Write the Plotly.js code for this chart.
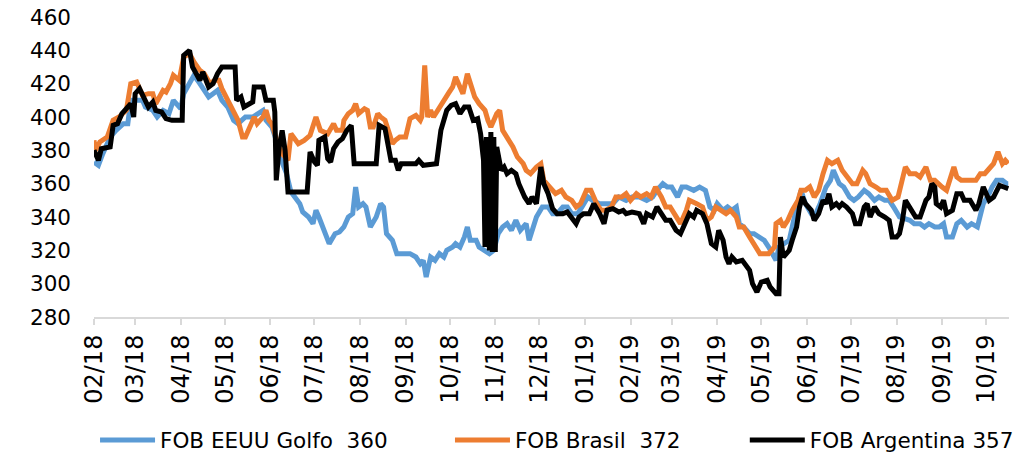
<!DOCTYPE html>
<html>
<head>
<meta charset="utf-8">
<script src="https://cdn.plot.ly/plotly-3.0.1.min.js"></script>
<style>
html,body{margin:0;padding:0;background:#fff;}
#chart{width:1033px;height:457px;}
</style>
</head>
<body>
<div id="chart"></div>
<script>
// ---- Series names (legend) ----
var nameUS = "FOB EEUU Golfo \u00a0360";
var nameBR = "FOB Brasil \u00a0372";
var nameAR = "FOB Argentina 357";

// ---- FOB Argentina ----
var arDates = ["2018-02-01","2018-02-04","2018-02-06","2018-02-12","2018-02-14","2018-02-17","2018-02-20","2018-02-23","2018-02-26","2018-02-28",
"2018-03-01","2018-03-04","2018-03-07","2018-03-10","2018-03-13","2018-03-15","2018-03-19","2018-03-22","2018-03-26","2018-04-02",
"2018-04-03","2018-04-07","2018-04-09","2018-04-12","2018-04-14","2018-04-16","2018-04-20","2018-04-23","2018-04-26","2018-04-29",
"2018-05-08","2018-05-09","2018-05-12","2018-05-14","2018-05-20","2018-05-21","2018-05-27","2018-05-29","2018-06-03","2018-06-04",
"2018-06-05","2018-06-07","2018-06-09","2018-06-11","2018-06-13","2018-06-26","2018-06-28","2018-07-01","2018-07-03","2018-07-04",
"2018-07-08","2018-07-10","2018-07-12","2018-07-14","2018-07-17","2018-07-20","2018-07-23","2018-07-26","2018-07-28","2018-08-12",
"2018-08-14","2018-08-18","2018-08-21","2018-08-22","2018-08-25","2018-08-27","2018-08-29","2018-09-08","2018-09-10","2018-09-13",
"2018-09-22","2018-09-24","2018-09-25","2018-09-29","2018-10-02","2018-10-05","2018-10-08","2018-10-11","2018-10-14","2018-10-17",
"2018-10-20","2018-10-22","2018-10-24","2018-10-25","2018-10-26","2018-10-28","2018-10-29","2018-10-30","2018-10-31","2018-11-01",
"2018-11-02","2018-11-05","2018-11-07","2018-11-09","2018-11-12","2018-11-15","2018-11-17","2018-11-21","2018-11-24","2018-11-26",
"2018-11-29","2018-12-02","2018-12-04","2018-12-07","2018-12-10","2018-12-13","2018-12-17","2018-12-20","2018-12-23","2018-12-26",
"2018-12-28","2018-12-31","2019-01-04","2019-01-07","2019-01-11","2019-01-14","2019-01-16","2019-01-20","2019-01-24","2019-01-27",
"2019-01-29","2019-02-02","2019-02-07","2019-02-10","2019-02-12","2019-02-16","2019-02-19","2019-02-22","2019-02-25","2019-02-28",
"2019-03-04","2019-03-07","2019-03-11","2019-03-13","2019-03-16","2019-03-18","2019-03-22","2019-03-25","2019-03-28","2019-03-31",
"2019-04-02","2019-04-05","2019-04-07","2019-04-09","2019-04-11","2019-04-14","2019-04-18","2019-04-21","2019-04-23","2019-04-25",
"2019-04-28","2019-05-01","2019-05-05","2019-05-07","2019-05-11","2019-05-13","2019-05-14","2019-05-16","2019-05-18","2019-05-20",
"2019-05-22","2019-05-25","2019-05-27","2019-05-29","2019-05-31","2019-06-04","2019-06-06","2019-06-09","2019-06-12","2019-06-14",
"2019-06-16","2019-06-18","2019-06-21","2019-06-23","2019-06-25","2019-06-28","2019-07-02","2019-07-04","2019-07-07","2019-07-10",
"2019-07-12","2019-07-14","2019-07-17","2019-07-20","2019-07-24","2019-07-27","2019-07-29","2019-08-01","2019-08-03","2019-08-05",
"2019-08-07","2019-08-10","2019-08-14","2019-08-17","2019-08-21","2019-08-23","2019-08-25","2019-08-27","2019-08-28","2019-08-31",
"2019-09-02","2019-09-04","2019-09-08","2019-09-11","2019-09-14","2019-09-16","2019-09-20","2019-09-24","2019-09-26","2019-09-29",
"2019-10-03","2019-10-06","2019-10-10","2019-10-13","2019-10-16"];
var arValues = [380,374,381,382,395,396,402,405,408,400,
414,417,412,406,409,404,403,399,398,398,
437,440,430,425,422,427,418,420,426,430,
430,410,412,406,409,418,418,410,410,403,
362,382,392,380,355,355,379,373,371,386,
388,375,373,381,385,387,392,395,372,372,
395,393,380,374,374,368,372,372,374,371,
372,385,392,404,407,408,402,406,406,398,
399,390,374,322,388,320,391,319,388,319,
382,368,370,366,368,366,360,352,348,352,
348,370,360,354,345,342,342,343,340,336,
340,342,342,348,342,336,344,345,343,344,
342,343,342,336,342,340,346,342,338,338,
332,330,338,342,340,344,342,336,324,322,
332,326,316,312,316,313,314,310,308,300,
295,301,302,298,294,294,328,316,318,320,
326,334,346,352,348,344,338,342,350,348,
354,346,348,346,348,346,342,336,336,346,
348,340,346,342,340,338,328,328,330,338,
350,346,340,340,350,352,360,358,348,346,
350,342,344,354,354,350,350,344,348,358,
350,352,359,358,357];

// ---- FOB Brasil ----
var brDates = ["2018-02-01","2018-02-02","2018-02-05","2018-02-10","2018-02-14","2018-02-18","2018-02-23","2018-02-26","2018-03-02","2018-03-06",
"2018-03-10","2018-03-13","2018-03-15","2018-03-20","2018-03-22","2018-03-25","2018-03-27","2018-03-31","2018-04-03","2018-04-07",
"2018-04-10","2018-04-14","2018-04-17","2018-04-21","2018-04-24","2018-04-27","2018-04-29","2018-05-03","2018-05-06","2018-05-10",
"2018-05-13","2018-05-15","2018-05-19","2018-05-21","2018-05-23","2018-05-27","2018-05-29","2018-05-31","2018-06-02","2018-06-06",
"2018-06-09","2018-06-13","2018-06-15","2018-06-20","2018-06-24","2018-06-28","2018-07-02","2018-07-05","2018-07-10","2018-07-14",
"2018-07-16","2018-07-20","2018-07-21","2018-07-24","2018-07-27","2018-07-29","2018-07-31","2018-08-04","2018-08-06","2018-08-08",
"2018-08-10","2018-08-13","2018-08-15","2018-08-18","2018-08-21","2018-08-23","2018-08-25","2018-08-28","2018-09-01","2018-09-04",
"2018-09-08","2018-09-11","2018-09-12","2018-09-14","2018-09-16","2018-09-18","2018-09-20","2018-09-24","2018-09-28","2018-09-30",
"2018-10-03","2018-10-05","2018-10-07","2018-10-10","2018-10-13","2018-10-15","2018-10-18","2018-10-21","2018-10-25","2018-10-27",
"2018-10-29","2018-11-02","2018-11-04","2018-11-06","2018-11-09","2018-11-13","2018-11-16","2018-11-20","2018-11-22","2018-11-25",
"2018-11-29","2018-12-02","2018-12-04","2018-12-08","2018-12-12","2018-12-16","2018-12-19","2018-12-23","2018-12-26","2018-12-29",
"2019-01-02","2019-01-05","2019-01-09","2019-01-12","2019-01-15","2019-01-19","2019-01-22","2019-01-26","2019-01-29","2019-02-01",
"2019-02-05","2019-02-08","2019-02-12","2019-02-15","2019-02-18","2019-02-22","2019-02-25","2019-02-28","2019-03-04","2019-03-07",
"2019-03-11","2019-03-13","2019-03-18","2019-03-22","2019-03-25","2019-03-28","2019-03-31","2019-04-04","2019-04-07","2019-04-10",
"2019-04-14","2019-04-16","2019-04-19","2019-04-23","2019-04-26","2019-04-30","2019-05-03","2019-05-06","2019-05-10","2019-05-11",
"2019-05-14","2019-05-16","2019-05-19","2019-05-22","2019-05-26","2019-05-28","2019-05-31","2019-06-03","2019-06-06","2019-06-09",
"2019-06-12","2019-06-15","2019-06-18","2019-06-22","2019-06-25","2019-06-28","2019-07-02","2019-07-05","2019-07-09","2019-07-11",
"2019-07-14","2019-07-18","2019-07-21","2019-07-25","2019-07-29","2019-08-02","2019-08-07","2019-08-10","2019-08-14","2019-08-17",
"2019-08-21","2019-08-24","2019-08-27","2019-09-01","2019-09-04","2019-09-09","2019-09-11","2019-09-14","2019-09-19","2019-09-24",
"2019-09-27","2019-09-30","2019-10-04","2019-10-06","2019-10-09","2019-10-12","2019-10-14","2019-10-16"];
var brValues = [386,380,385,388,398,400,404,420,421,413,
414,414,408,416,415,420,425,422,436,438,
433,428,426,420,422,422,417,410,404,398,
388,388,396,400,396,400,404,398,396,384,
378,374,390,384,386,389,400,392,390,396,
392,392,398,402,404,408,402,405,404,394,
394,402,400,398,390,384,386,388,388,399,
401,398,400,431,400,404,400,406,412,414,
418,424,420,414,426,420,412,408,404,398,
394,402,404,392,388,382,376,372,368,366,
370,372,362,358,354,356,352,350,346,348,
356,356,348,344,344,346,352,352,354,350,
354,352,354,352,358,352,346,346,340,336,
344,350,348,346,338,340,346,344,342,344,
340,334,334,328,324,318,318,318,322,336,
338,334,338,344,350,356,356,358,352,356,
366,374,372,374,368,364,360,360,368,366,
360,358,356,356,350,352,370,366,366,364,
370,362,362,358,356,370,364,362,362,362,
366,366,370,372,379,372,374,372];

// ---- FOB EEUU Golfo ----
var usDates = ["2018-02-01","2018-02-04","2018-02-07","2018-02-12","2018-02-16","2018-02-21","2018-02-24","2018-02-26","2018-03-06","2018-03-08",
"2018-03-13","2018-03-16","2018-03-20","2018-03-24","2018-03-27","2018-03-29","2018-04-01","2018-04-03","2018-04-07","2018-04-10",
"2018-04-14","2018-04-17","2018-04-20","2018-04-23","2018-04-26","2018-04-29","2018-05-03","2018-05-07","2018-05-10","2018-05-15",
"2018-05-20","2018-05-27","2018-05-29","2018-06-02","2018-06-05","2018-06-08","2018-06-12","2018-06-15","2018-06-19","2018-06-21",
"2018-06-23","2018-06-27","2018-06-30","2018-07-02","2018-07-04","2018-07-08","2018-07-11","2018-07-15","2018-07-18","2018-07-21",
"2018-07-24","2018-07-27","2018-07-29","2018-07-31","2018-08-03","2018-08-05","2018-08-08","2018-08-12","2018-08-15","2018-08-17",
"2018-08-19","2018-08-23","2018-08-26","2018-09-01","2018-09-04","2018-09-08","2018-09-11","2018-09-13","2018-09-15","2018-09-18",
"2018-09-21","2018-09-24","2018-09-27","2018-09-29","2018-10-03","2018-10-05","2018-10-08","2018-10-11","2018-10-13","2018-10-15",
"2018-10-19","2018-10-21","2018-10-25","2018-10-28","2018-10-31","2018-11-03","2018-11-06","2018-11-09","2018-11-12","2018-11-15",
"2018-11-18","2018-11-22","2018-11-24","2018-11-26","2018-11-29","2018-12-03","2018-12-07","2018-12-10","2018-12-13","2018-12-17",
"2018-12-20","2018-12-23","2018-12-27","2018-12-30","2019-01-03","2019-01-06","2019-01-11","2019-01-15","2019-01-20","2019-01-24",
"2019-01-29","2019-02-02","2019-02-07","2019-02-12","2019-02-16","2019-02-19","2019-02-23","2019-02-26","2019-03-01","2019-03-05",
"2019-03-08","2019-03-11","2019-03-16","2019-03-20","2019-03-24","2019-03-27","2019-03-30","2019-04-01","2019-04-05","2019-04-08",
"2019-04-11","2019-04-14","2019-04-16","2019-04-19","2019-04-23","2019-04-26","2019-04-30","2019-05-03","2019-05-06","2019-05-11",
"2019-05-13","2019-05-16","2019-05-20","2019-05-23","2019-05-26","2019-05-28","2019-05-31","2019-06-04","2019-06-07","2019-06-10",
"2019-06-14","2019-06-17","2019-06-19","2019-06-23","2019-06-26","2019-06-30","2019-07-03","2019-07-06","2019-07-10","2019-07-13",
"2019-07-17","2019-07-20","2019-07-24","2019-07-27","2019-07-30","2019-08-03","2019-08-10","2019-08-13","2019-08-17","2019-08-20",
"2019-08-23","2019-08-27","2019-08-30","2019-09-02","2019-09-04","2019-09-08","2019-09-11","2019-09-14","2019-09-18","2019-09-21",
"2019-09-25","2019-09-27","2019-09-29","2019-10-03","2019-10-05","2019-10-08","2019-10-12","2019-10-15","2019-10-16"];
var usValues = [373,371,378,388,392,396,396,410,410,406,
404,400,404,402,410,408,405,414,420,425,
420,416,412,414,416,410,406,398,396,400,
400,404,398,394,386,375,366,355,350,348,
343,340,336,344,340,331,324,330,331,334,
340,342,358,346,348,346,334,340,348,346,
330,326,318,318,318,316,312,314,304,316,
314,318,316,320,322,324,322,328,334,326,
326,322,320,318,320,330,334,336,332,338,
332,336,326,332,340,346,346,342,342,346,
346,342,342,346,352,350,348,348,348,352,
350,352,352,350,352,356,360,358,358,352,
358,358,356,358,356,346,344,348,344,346,
344,346,336,334,330,330,328,326,322,314,
322,324,326,338,350,356,348,342,342,348,
358,362,368,360,358,352,350,352,356,354,
350,352,350,350,346,340,338,336,336,334,
336,334,334,336,328,328,336,338,334,336,
334,340,348,354,358,362,362,360,360];

// ---- Axis ticks ----
var yTicks = [280,300,320,340,360,380,400,420,440,460];
var xStart = "2018-02-01";
var xEnd = "2019-10-16 12:00";

var FONT = "DejaVu Sans, Verdana, sans-serif";

var traces = [
  {x: usDates, y: usValues, name: nameUS, type: "scatter", mode: "lines",
   line: {color: "#5B9BD5", width: 5}, legend: "legend"},
  {x: brDates, y: brValues, name: nameBR, type: "scatter", mode: "lines",
   line: {color: "#ED7D31", width: 5}, legend: "legend2"},
  {x: arDates, y: arValues, name: nameAR, type: "scatter", mode: "lines",
   line: {color: "#000000", width: 5}, legend: "legend3"}
];

function legendAt(x) {
  return {x: x, y: 0.037, xref: "container", yref: "container",
          xanchor: "left", yanchor: "middle", orientation: "h",
          itemwidth: 55,
          bgcolor: "rgba(0,0,0,0)", borderwidth: 0,
          font: {family: FONT, size: 21.5, color: "#000"}};
}

var layout = {
  width: 1033, height: 457,
  margin: {l: 94, r: 24, t: 17, b: 140, pad: 0},
  paper_bgcolor: "#ffffff", plot_bgcolor: "#ffffff",
  showlegend: true,
  legend: legendAt(0.092),
  legend2: legendAt(0.4356),
  legend3: legendAt(0.721),
  xaxis: {
    type: "date", range: [xStart, xEnd],
    tick0: xStart, dtick: "M1", tickformat: "%m/%y", tickangle: -90,
    showgrid: false, zeroline: false,
    showline: true, linecolor: "#d9d9d9", linewidth: 2,
    ticks: "outside", ticklen: 6, tickwidth: 2, tickcolor: "#d9d9d9",
    tickfont: {family: FONT, size: 24, color: "#000"}
  },
  yaxis: {
    range: [280, 460], tickvals: yTicks,
    showgrid: false, zeroline: false, showline: false,
    ticks: "", ticklabelstandoff: 22,
    tickfont: {family: FONT, size: 21.5, color: "#000"}
  }
};

Plotly.newPlot("chart", traces, layout, {displayModeBar: false, staticPlot: true});
</script>
</body>
</html>
